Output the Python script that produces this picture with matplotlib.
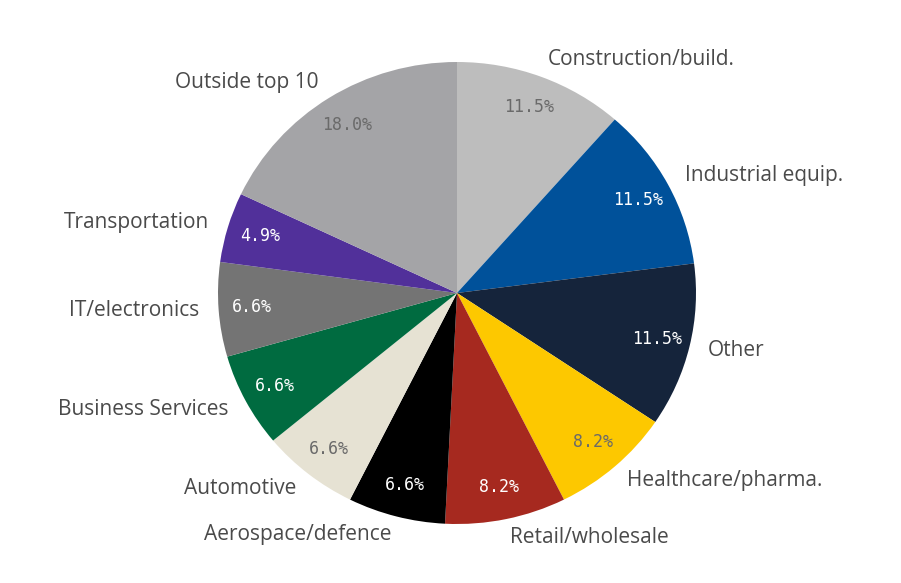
import matplotlib
matplotlib.use("Agg")
import matplotlib.pyplot as plt

sectors = ["Construction/build.", "Industrial equip.", "Other", "Healthcare/pharma.",
           "Retail/wholesale", "Aerospace/defence", "Automotive", "Business Services",
           "IT/electronics", "Transportation", "Outside top 10"]
shares = [11.5, 11.5, 11.5, 8.2, 8.2, 6.6, 6.6, 6.6, 6.6, 4.9, 18.0]
colors = ["#bdbdbd", "#00519a", "#15243b", "#fdc800", "#a6291f", "#000000",
          "#e6e2d3", "#006b40", "#747474", "#51309a", "#a4a4a7"]
pct_colors = ["#6a6a6a", "white", "white", "#6a6a6a", "white", "white",
              "#6a6a6a", "white", "white", "white", "#6a6a6a"]

W, H = 901, 583
fig = plt.figure(figsize=(W / 100, H / 100), dpi=100)
fig.patch.set_facecolor("white")

# pie bounding box in pixels (slightly wider than tall)
left, right, top, bottom = 218, 696, 62, 524
ax = fig.add_axes([left / W, (H - bottom) / H, (right - left) / W, (bottom - top) / H])
ax.axis("off")

wedges, texts, autotexts = ax.pie(
    shares, labels=sectors, colors=colors, startangle=90, counterclock=False,
    autopct=lambda p: f"{p:.1f}%", pctdistance=0.86, labeldistance=1.08,
    radius=1.0, frame=False, normalize=True,
    textprops=dict(fontsize=15, color="#4a4a4a", family=["Open Sans", "DejaVu Sans"]),
)
for w in wedges:
    w.set_clip_on(False)
for t in texts:
    t.set_clip_on(False)
for at, v, c in zip(autotexts, shares, pct_colors):
    at.set_text(f"{v:.1f}%")
    at.set_color(c)
    at.set_family(["DejaVu Sans Mono"])
    at.set_fontsize(12)

ax.set_xlim(-1, 1)
ax.set_ylim(-1, 1)
ax.set_aspect("auto")

fig.savefig("out.png", dpi=100, facecolor="white")
